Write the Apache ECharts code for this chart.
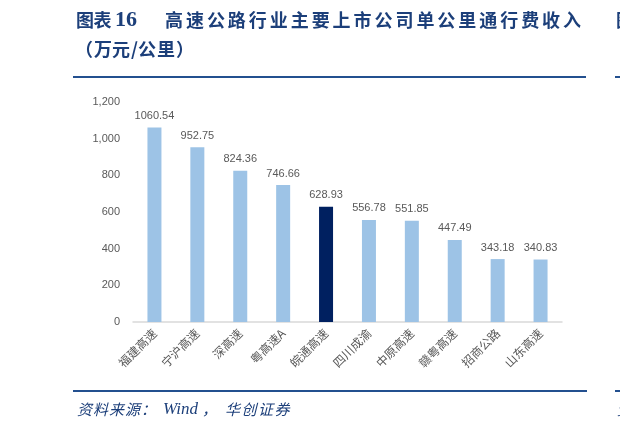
<!DOCTYPE html>
<html>
<head>
<meta charset="utf-8">
<script src="https://cdn.jsdelivr.net/npm/echarts@6/dist/echarts.min.js"></script>
<style>
html,body{margin:0;padding:0;background:#fff;}
#c{width:620px;height:432px;}
</style>
</head>
<body>
<div id="c"></div>
<script>
var categories = ['福建高速','宁沪高速','深高速','粤高速A','皖通高速','四川成渝','中原高速','赣粤高速','招商公路','山东高速'];
var values = [1060.54, 952.75, 824.36, 746.66, 628.93, 556.78, 551.85, 447.49, 343.18, 340.83];
var highlightIndex = 4;
var yMin = 0, yMax = 1200, yStep = 200;

var titleNo = '图表';
var titleNum = '16';
var titleMain = '高速公路行业主要上市公司单公里通行费收入';
var titleUnit = '（万元/公里）';
var sourceParts = ['资料来源：', 'Wind', '，', '华创证券'];

var NAVY = '#1c3f7a';
var CJK = '"Noto Sans CJK SC", sans-serif';
var SERIF = '"Liberation Serif", "Noto Sans CJK SC", serif';

function charRow(str, x, y, pitch, font, weight, size, color, italic) {
  var out = [];
  for (var i = 0; i < str.length; i++) {
    var left = Array.isArray(pitch) ? x + pitch[i] : x + i * pitch;
    out.push({
      type: 'text', left: left, top: y, silent: true,
      style: { text: str[i], fill: color, font: (italic ? 'italic ' : '') + weight + ' ' + size + 'px ' + font }
    });
  }
  return out;
}
function plain(str, x, y, font, weight, size, color, italic) {
  return {
    type: 'text', left: x, top: y, silent: true,
    style: { text: str, fill: color, font: (italic ? 'italic ' : '') + weight + ' ' + size + 'px ' + font }
  };
}

var graphics = [];
// title line 1
graphics = graphics.concat(charRow(titleNo, 76, 11, 17.5, CJK, 'bold', 18, NAVY));
graphics.push(plain(titleNum, 115, 9, SERIF, 'bold', 22, NAVY));
graphics = graphics.concat(charRow(titleMain, 165, 11, 20.95, CJK, 'bold', 18, NAVY));
graphics.push(plain('图', 616, 11, CJK, 'bold', 18, NAVY));
// title line 2
graphics = graphics.concat(charRow(titleUnit, 75, 40, [0, 19, 37, 56, 63, 82, 101], CJK, 'bold', 18, NAVY));
// rules
graphics.push({ type: 'rect', silent: true, shape: { x: 73, y: 76, width: 513, height: 2 }, style: { fill: '#23508f' } });
graphics.push({ type: 'rect', silent: true, shape: { x: 615, y: 76, width: 10, height: 2 }, style: { fill: '#23508f' } });
graphics.push({ type: 'rect', silent: true, shape: { x: 73, y: 390, width: 514, height: 2 }, style: { fill: '#23508f' } });
graphics.push({ type: 'rect', silent: true, shape: { x: 615, y: 390, width: 10, height: 2 }, style: { fill: '#23508f' } });
// source
graphics = graphics.concat(charRow(sourceParts[0], 77, 402, 16, CJK, 'normal', 15, NAVY, true));
graphics.push(plain(sourceParts[1], 163, 401, SERIF, 'normal', 17, NAVY, true));
graphics = graphics.concat(charRow(sourceParts[2], 202, 402, 16, CJK, 'normal', 15, NAVY, true));
graphics = graphics.concat(charRow(sourceParts[3], 225, 402, 16.5, CJK, 'normal', 15, NAVY, true));
graphics.push(plain('资', 617, 402, CJK, 'normal', 15, NAVY, true));

var chart = echarts.init(document.getElementById('c'), null, { renderer: 'canvas' });
chart.setOption({
  animation: false,
  backgroundColor: '#ffffff',
  grid: { left: 133, right: 58, top: 102, bottom: 110, containLabel: false },
  xAxis: {
    type: 'category',
    data: categories,
    axisLine: { show: true, lineStyle: { color: '#d9d9d9', width: 1.5 } },
    axisTick: { show: false },
    axisLabel: { rotate: 45, interval: 0, margin: 9, color: '#595959', fontSize: 12, fontFamily: CJK }
  },
  yAxis: {
    type: 'value',
    min: yMin, max: yMax, interval: yStep,
    axisLine: { show: false },
    axisTick: { show: false },
    splitLine: { show: false },
    axisLabel: {
      margin: 13, color: '#595959', fontSize: 11, fontFamily: '"Liberation Sans", Arial, sans-serif',
      formatter: function (v) { return v.toLocaleString('en-US'); }
    }
  },
  series: [{
    type: 'bar',
    barWidth: 14,
    data: values.map(function (v, i) {
      return { value: v, itemStyle: { color: i === highlightIndex ? '#002060' : '#9dc3e6' } };
    }),
    label: {
      show: true, position: 'top', distance: 6,
      color: '#595959', fontSize: 11, fontFamily: '"Liberation Sans", Arial, sans-serif',
      formatter: function (p) { return p.value.toFixed(2); }
    }
  }],
  graphic: graphics
});
</script>
</body>
</html>
